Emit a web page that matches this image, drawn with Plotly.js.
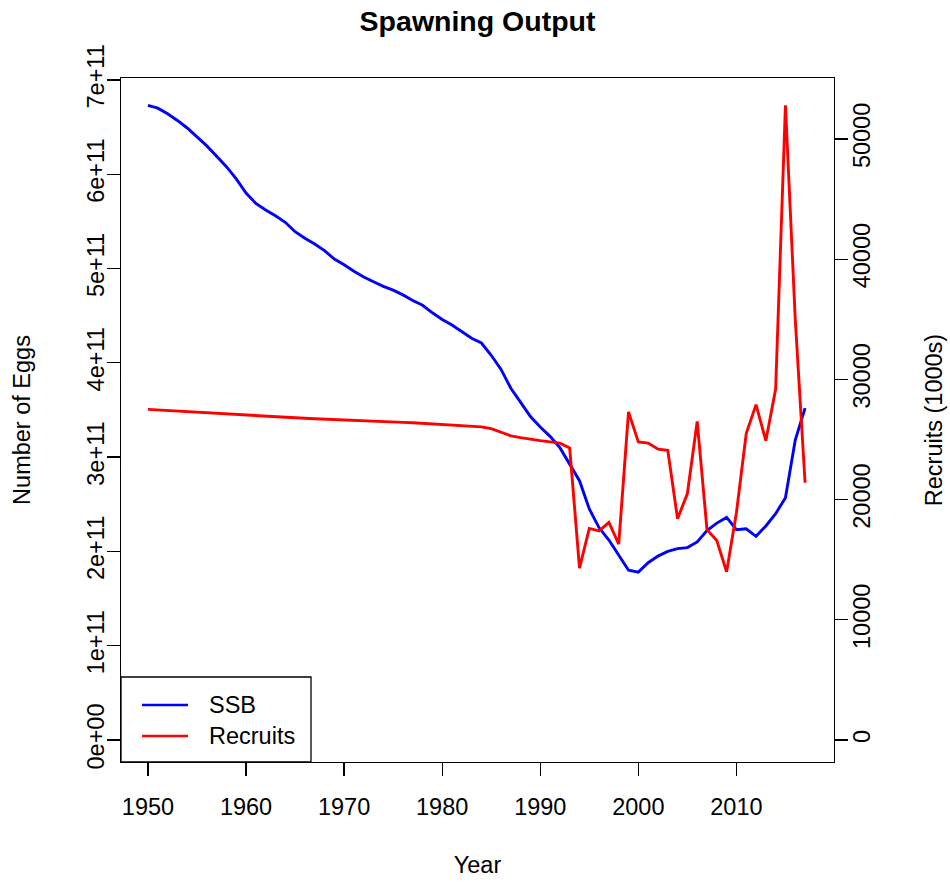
<html><head>
<title>Spawning Output</title>
<script src="https://cdn.plot.ly/plotly-3.0.1.min.js"></script>
<style>
  body { margin: 0; padding: 0; background: white; }
  #chart { width: 950px; height: 882px; }
</style>
</head>
<body>
<div id="chart"></div>
<script>
// values
const years = [1950, 1951, 1952, 1953, 1954, 1955, 1956, 1957, 1958, 1959,
  1960, 1961, 1962, 1963, 1964, 1965, 1966, 1967, 1968, 1969,
  1970, 1971, 1972, 1973, 1974, 1975, 1976, 1977, 1978, 1979,
  1980, 1981, 1982, 1983, 1984, 1985, 1986, 1987, 1988, 1989,
  1990, 1991, 1992, 1993, 1994, 1995, 1996, 1997, 1998, 1999,
  2000, 2001, 2002, 2003, 2004, 2005, 2006, 2007, 2008, 2009,
  2010, 2011, 2012, 2013, 2014, 2015, 2016, 2017];

// spawning stock output, number of eggs
const ssb = [6.73e11, 6.70e11, 6.64e11, 6.57e11, 6.49e11, 6.40e11, 6.30e11, 6.19e11, 6.08e11, 5.95e11,
  5.80e11, 5.69e11, 5.62e11, 5.56e11, 5.49e11, 5.39e11, 5.32e11, 5.26e11, 5.19e11, 5.10e11,
  5.04e11, 4.97e11, 4.91e11, 4.86e11, 4.81e11, 4.77e11, 4.72e11, 4.66e11, 4.61e11, 4.53e11,
  4.46e11, 4.40e11, 4.33e11, 4.26e11, 4.21e11, 4.08e11, 3.93e11, 3.73e11, 3.58e11, 3.43e11,
  3.32e11, 3.22e11, 3.10e11, 2.92e11, 2.75e11, 2.45e11, 2.25e11, 2.12e11, 1.96e11, 1.80e11,
  1.78e11, 1.88e11, 1.95e11, 2.00e11, 2.03e11, 2.04e11, 2.10e11, 2.22e11, 2.30e11, 2.36e11,
  2.23e11, 2.24e11, 2.16e11, 2.27e11, 2.40e11, 2.57e11, 3.18e11, 3.52e11];

// recruits (1000s)
const recruits = [27500, 27450, 27400, 27350, 27300, 27250, 27200, 27150, 27100, 27050,
  27000, 26950, 26900, 26870, 26830, 26800, 26760, 26720, 26680, 26640,
  26600, 26570, 26540, 26510, 26480, 26450, 26420, 26390, 26350, 26300,
  26250, 26200, 26150, 26100, 26050, 25900, 25600, 25300, 25150, 25000,
  24900, 24800, 24700, 24300, 14300, 17600, 17400, 18100, 16300, 27300,
  24800, 24700, 24200, 24100, 18400, 20500, 26500, 17500, 16600, 14000,
  18900, 25500, 27900, 24900, 29200, 52800, 35000, 21400];

const seriesNames = ['SSB', 'Recruits'];
const seriesColors = ['#0000ff', '#ff0000'];

const xTicks = [1950, 1960, 1970, 1980, 1990, 2000, 2010];
const leftTicks = [0, 1e11, 2e11, 3e11, 4e11, 5e11, 6e11, 7e11];
const leftTickText = ['0e+00', '1e+11', '2e+11', '3e+11', '4e+11', '5e+11', '6e+11', '7e+11'];
const rightTicks = [0, 10000, 20000, 30000, 40000, 50000];
const rightTickText = ['0', '10000', '20000', '30000', '40000', '50000'];

const font = 'Liberation Sans, Arial, sans-serif';
const fs = 23.5;

const traces = [
  {
    x: years, y: ssb, name: seriesNames[0], type: 'scatter', mode: 'lines',
    line: { color: seriesColors[0], width: 2.9 }, yaxis: 'y'
  },
  {
    x: years, y: recruits, name: seriesNames[1], type: 'scatter', mode: 'lines',
    line: { color: seriesColors[1], width: 2.9 }, yaxis: 'y2'
  }
];

// legend box drawn like R's legend("bottomleft")
const plotW = 713, plotH = 684;
const px = v => v / plotW;
const py = v => v / plotH;
const legendShapes = [
  { type: 'rect', xref: 'paper', yref: 'paper', x0: 0, x1: px(190), y0: 0, y1: py(85),
    line: { color: '#000', width: 1.3 }, fillcolor: 'white', layer: 'above' }
];
const legendNotes = [];
seriesNames.forEach((name, i) => {
  const yy = py(57 - i * 31);
  legendShapes.push({ type: 'line', xref: 'paper', yref: 'paper',
    x0: px(21), x1: px(67), y0: yy, y1: yy,
    line: { color: seriesColors[i], width: 2.6 }, layer: 'above' });
  legendNotes.push({ xref: 'paper', yref: 'paper', x: px(86), y: yy,
    xanchor: 'left', yanchor: 'middle', showarrow: false, text: name,
    font: { family: font, size: fs, color: '#000' } });
});

const layout = {
  width: 950,
  height: 882,
  margin: { l: 121, r: 116, t: 78, b: 120 },
  paper_bgcolor: 'white',
  plot_bgcolor: 'white',
  font: { family: font, size: fs, color: '#000' },
  title: {
    text: '<b>Spawning Output</b>',
    font: { family: font, size: 28.5, color: '#000' },
    x: 0.5027, xanchor: 'center', xref: 'container',
    y: 1 - 21 / 882, yanchor: 'middle', yref: 'container'
  },
  showlegend: false,
  shapes: legendShapes,
  annotations: legendNotes,
  xaxis: {
    range: [1947.25, 2019.95],
    tickvals: xTicks,
    ticks: 'outside', ticklen: 13, tickwidth: 1.3, tickcolor: '#000',
    ticklabelstandoff: 10,
    showline: true, mirror: true, linecolor: '#000', linewidth: 1.3,
    showgrid: false, zeroline: false,
    title: { text: 'Year', font: { size: fs }, standoff: 38 }
  },
  yaxis: {
    range: [-0.2333e11, 7.02e11],
    tickvals: leftTicks, ticktext: leftTickText,
    tickangle: -90,
    ticks: 'outside', ticklen: 13, tickwidth: 1.3, tickcolor: '#000',
    ticklabelstandoff: -7,
    showline: true, mirror: true, linecolor: '#000', linewidth: 1.3,
    showgrid: false, zeroline: false,
    title: { text: 'Number of Eggs', font: { size: fs }, standoff: 46 }
  },
  yaxis2: {
    overlaying: 'y', side: 'right',
    range: [-1830, 55070],
    tickvals: rightTicks, ticktext: rightTickText,
    tickangle: -90,
    ticks: 'outside', ticklen: 13, tickwidth: 1.3, tickcolor: '#000',
    ticklabelstandoff: -7,
    showline: true, linecolor: '#000', linewidth: 1.3,
    showgrid: false, zeroline: false,
    title: { text: 'Recruits (1000s)', font: { size: fs }, standoff: 52 }
  }
};

Plotly.newPlot('chart', traces, layout, { displayModeBar: false, staticPlot: true });
</script>
</body></html>
